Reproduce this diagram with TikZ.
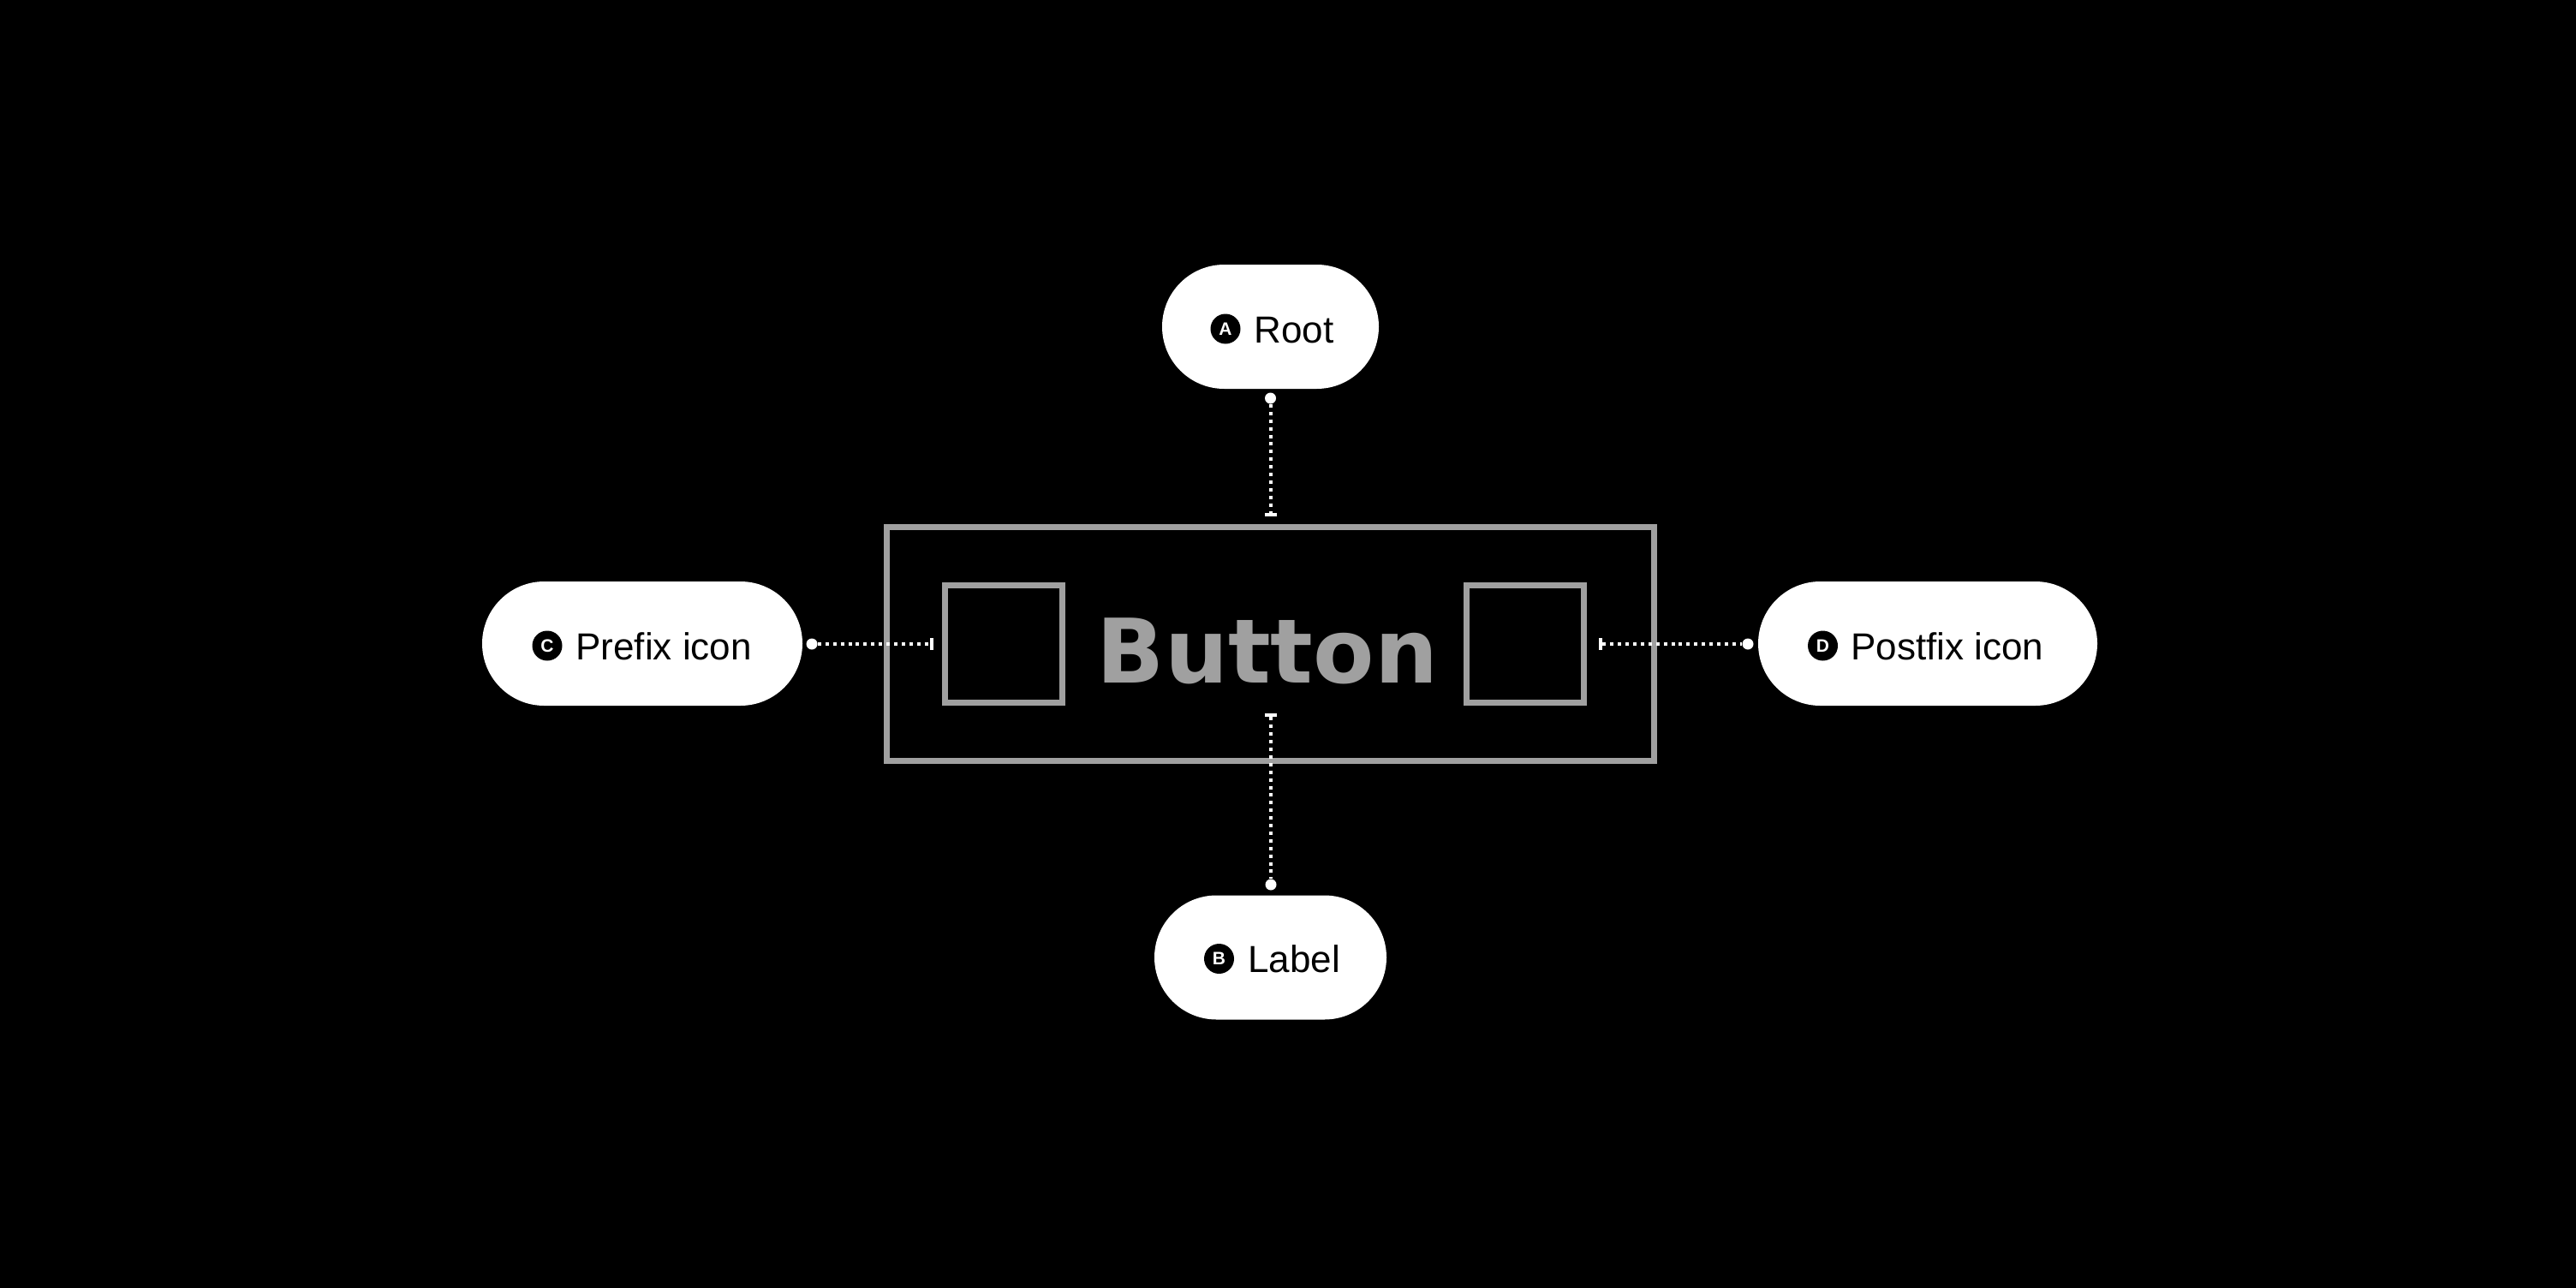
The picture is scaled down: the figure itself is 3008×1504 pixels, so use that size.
\documentclass[tikz,border=0pt]{standalone}
\usepackage{fontspec}
\setmainfont{Liberation Sans}
\newfontfamily\btnfont{DejaVu Sans}
\usetikzlibrary{shapes.misc}
\definecolor{btngray}{HTML}{A0A0A0}
\begin{document}
\begin{tikzpicture}[x=0.5pt,y=-0.5pt,
 pill/.style={rounded rectangle, fill=white, draw=none, minimum height=72.5pt, inner sep=0pt},
 badge/.style={circle, fill=black, text=white, minimum size=17.5pt, inner sep=0pt, font=\fontsize{10.5pt}{10.5pt}\selectfont\bfseries},
 pilltext/.style={anchor=base west, inner sep=0pt, text=black, font=\fontsize{22pt}{22pt}\selectfont},
 grayframe/.style={rectangle, draw=btngray, line width=3.5pt, inner sep=0pt},
 enddot/.style={circle, fill=white, minimum size=6.5pt, inner sep=0pt},
 hbar/.style={rectangle, fill=white, minimum width=7pt, minimum height=2pt, inner sep=0pt},
 vbar/.style={rectangle, fill=white, minimum width=2pt, minimum height=7pt, inner sep=0pt},
 leader/.style={draw=white, line width=2pt, dash pattern=on 2pt off 2.45pt}
]
\fill[black] (0,0) rectangle (3008,1504);
\useasboundingbox (0,0) rectangle (3008,1504);

% pills
\node[pill, minimum width=126.5pt] (root) at (1483.5,381.5) {};
\node[badge] (rootbadge) at (1431,384) {A};
\node[pilltext] (roottext) at (1464,400) {Root};

\node[pill, minimum width=187pt] (prefix) at (750,751.5) {};
\node[badge] (prefixbadge) at (639,754) {C};
\node[pilltext] (prefixtext) at (672,770) {Prefix icon};

\node[pill, minimum width=198pt] (postfix) at (2251,751.5) {};
\node[badge] (postfixbadge) at (2128.5,754) {D};
\node[pilltext] (postfixtext) at (2161,770) {Postfix icon};

\node[pill, minimum width=135.5pt] (label) at (1483.5,1118) {};
\node[badge] (labelbadge) at (1423.5,1119.5) {B};
\node[pilltext] (labeltext) at (1457,1135) {Label};

% button anatomy
\node[grayframe, minimum width=448pt, minimum height=136.5pt] (frame) at (1483.5,752) {};
\node[grayframe, minimum size=68.5pt] (leftsq) at (1172,752) {};
\node[grayframe, minimum size=68.5pt] (rightsq) at (1781,752) {};
\node[anchor=base, inner sep=0pt, text=btngray, font=\btnfont\bfseries\fontsize{52pt}{52pt}\selectfont] (btntext) at (1480,797) {Button};

% connectors
\node[enddot] (dA) at (1483.5,465) {};
\node[hbar] (bA) at (1483.5,601) {};
\draw[leader] (dA) -- (bA);

\node[hbar] (bB) at (1484,835) {};
\node[enddot] (dB) at (1484,1033) {};
\draw[leader] (bB) -- (dB);

\node[enddot] (dC) at (948,752) {};
\node[vbar] (bC) at (1088,752) {};
\draw[leader] (dC) -- (bC);

\node[vbar] (bD) at (1869,752) {};
\node[enddot] (dD) at (2041,752) {};
\draw[leader] (bD) -- (dD);
\end{tikzpicture}
\end{document}
